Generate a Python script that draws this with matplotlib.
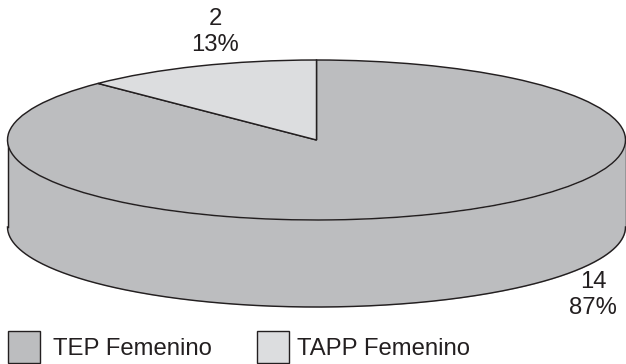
import numpy as np
import matplotlib
matplotlib.use("Agg")
import matplotlib.pyplot as plt
from matplotlib.patches import Patch

plt.rcParams['font.family'] = ['Liberation Sans', 'DejaVu Sans']

categories = ["TEP Femenino", "TAPP Femenino"]
counts = [14, 2]
percent_labels = ["87%", "13%"]
slice_colors = ["#BCBDBF", "#DCDDDF"]
ink = "#231F20"

W, H = 626, 364
cx, cy = 316.5, 140      # disc centre, pixels from top-left
rx, ry = 309, 80         # disc radii, pixels
depth = 87               # height of the cylinder wall, pixels
line_w = 1.05

fig = plt.figure(figsize=(W / 100, H / 100), dpi=100, facecolor="white")
ax = fig.add_axes([0, 0, 1, 1])

# Rim of the cylinder: the front half of the disc and the same arc shifted down
theta = np.linspace(np.pi, 2 * np.pi, 300)
rim_x = np.cos(theta)
rim_top = np.sin(theta)
rim_bottom = rim_top - depth / ry
ax.fill_between(rim_x, rim_bottom, rim_top, color=slice_colors[0], lw=0, zorder=1)
ax.plot(rim_x, rim_bottom, color=ink, lw=line_w, zorder=2)
for side in (-1, 1):
    ax.plot([side, side], [0, -depth / ry], color=ink, lw=line_w, zorder=2)

# Top face; the axes scale turns the unit circle into the ellipse
wedges, _ = ax.pie(counts, colors=slice_colors, startangle=135, radius=1,
                   wedgeprops=dict(edgecolor=ink, linewidth=line_w, zorder=3))
ax.set_aspect("auto")
ax.set_xlim(-cx / rx, (W - cx) / rx)
ax.set_ylim((cy - H) / ry, cy / ry)
ax.axis("off")

def to_data(px, py):
    return (px - cx) / rx, (cy - py) / ry

label_font = dict(ha="center", va="center", fontsize=17.2, color=ink, linespacing=1.19)
ax.text(*to_data(593, 295), f"{counts[0]}\n{percent_labels[0]}", **label_font)
ax.text(*to_data(215, 32), f"{counts[1]}\n{percent_labels[1]}", **label_font)

handles = [Patch(facecolor=c, edgecolor=ink, linewidth=1.0) for c in slice_colors]
legend = fig.legend(handles, categories, ncol=2, loc="lower left",
                    bbox_to_anchor=(8 / W, 1.5 / H), frameon=False, fontsize=17.2,
                    handlelength=1.34, handleheight=1.63, handletextpad=0.54,
                    columnspacing=1.88, borderpad=0, borderaxespad=0, labelcolor=ink)
# The second entry sits a little closer to its swatch
legend.get_texts()[1].set_position((-5, 0))

fig.savefig("out.png", dpi=100, facecolor="white")
